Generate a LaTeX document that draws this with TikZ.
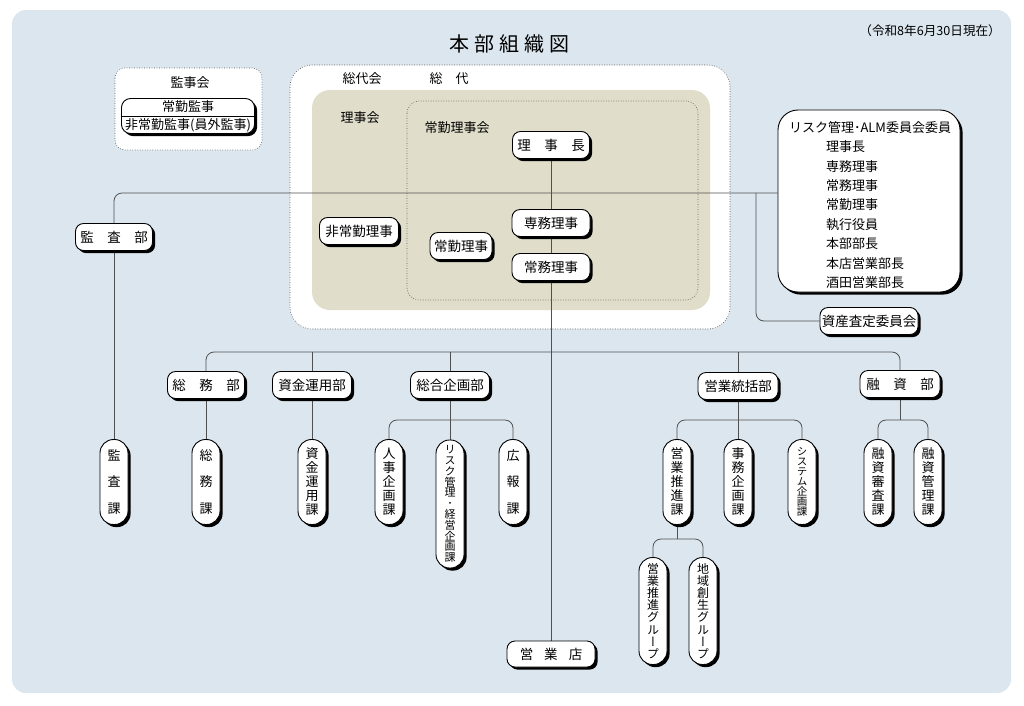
\documentclass[tikz,border=0pt]{standalone}
\usepackage{fontspec}
\setmainfont{Noto Sans CJK JP}
\newfontfamily\cjkv[RawFeature=+vert]{Noto Sans CJK JP}
\usetikzlibrary{shadows}
\definecolor{bgblue}{HTML}{DBE6EE}
\definecolor{beige}{HTML}{E0DECA}
\definecolor{lnc}{HTML}{505050}
\definecolor{dotc}{HTML}{5E5E5E}
\pgfdeclarelayer{back}
\pgfdeclarelayer{lines}
\pgfsetlayers{back,lines,main}
\begin{document}
\begin{tikzpicture}[x=1pt,y=-1pt,
 shd/.style={drop shadow={shadow xshift=2.6pt,shadow yshift=-2.6pt,fill=black,opacity=1}},
 hbox/.style={draw=black,line width=0.9pt,fill=white,rounded corners=8pt,minimum height=27pt,inner sep=0pt,font={\fontsize{13.5}{16}\selectfont},shd},
 vbox/.style={draw=black,line width=0.9pt,fill=white,rounded corners=13.5pt,minimum width=28pt,inner sep=0pt,align=center,shd},
 vt3/.style={font={\cjkv\fontsize{13}{26.5}\selectfont\lineskiplimit=-\maxdimen}},
 vt5/.style={font={\cjkv\fontsize{13}{14}\selectfont\lineskiplimit=-\maxdimen}},
 vt7/.style={font={\cjkv\fontsize{10.5}{10}\selectfont\lineskiplimit=-\maxdimen}},
 vt8/.style={font={\cjkv\fontsize{12}{12.1}\selectfont\lineskiplimit=-\maxdimen}},
 vt11/.style={font={\cjkv\fontsize{11}{10.8}\selectfont\lineskiplimit=-\maxdimen}},
 conn/.style={draw=lnc,line width=0.8pt},
 region/.style={draw=dotc,line width=0.6pt,dash pattern=on 0.8pt off 1.7pt},
 lbl/.style={inner sep=0pt,font={\fontsize{13}{16}\selectfont}}
]
\useasboundingbox (0,0) rectangle (1024,705);
\begin{pgfonlayer}{back}
\fill[white] (0,0) rectangle (1024,705);
\fill[bgblue,rounded corners=14pt] (12,10) rectangle (1011,693);
\draw[region,fill=white,rounded corners=10pt] (115,68) rectangle (262,150);
\draw[region,fill=white,rounded corners=22pt] (290,65) rectangle (730,329);
\fill[beige,rounded corners=18pt] (312,90) rectangle (710,310);
\draw[region,rounded corners=12pt] (407,101) rectangle (698,300);
\end{pgfonlayer}

% titles and labels
\node[inner sep=0pt,font={\fontsize{20}{24}\selectfont}] (title) at (509,44) {本\hspace{5pt}部\hspace{5pt}組\hspace{5pt}織\hspace{5pt}図};
\node[inner sep=0pt,anchor=east,font={\fontsize{12.6}{14}\selectfont}] (date) at (1001,31) {（令和8年6月30日現在）};
\node[lbl] (kanjikai) at (190,83) {監事会};
\node[lbl] (sodaikai) at (362,79) {総代会};
\node[lbl] (sodai) at (449,79) {総　代};
\node[lbl] (rijikai) at (360,118) {理事会};
\node[lbl] (jokinrijikai) at (457,128) {常勤理事会};

% audit committee
\node[hbox,minimum width=133,minimum height=35,rounded corners=9pt] (kanjibox) at (188,116) {};
\draw[black,line width=0.7pt] (kanjibox.west) -- (kanjibox.east);
\node[lbl] (jokinkanji) at (188,107) {常勤監事};
\node[lbl] (hijokinkanji) at (188,125.5) {非常勤監事(員外監事)};

% board
\node[hbox,minimum width=77] (richo) at (551,145) {理　事　長};
\node[hbox,minimum width=78] (senmu) at (551,223) {専務理事};
\node[hbox,minimum width=78] (jomu) at (551,267) {常務理事};
\node[hbox,minimum width=62] (jokin) at (461,246) {常勤理事};
\node[hbox,minimum width=79] (hijokin) at (359,231) {非常勤理事};

% risk committee
\node[hbox,rounded corners=20pt,minimum width=182,minimum height=182] (risk) at (869,201) {};
\node[inner sep=0pt,align=left,font={\fontsize{13}{19.4}\selectfont}] (risktxt) at (870,205) {リスク管理･ALM委員会委員\\\hspace*{37pt}理事長\\\hspace*{37pt}専務理事\\\hspace*{37pt}常務理事\\\hspace*{37pt}常勤理事\\\hspace*{37pt}執行役員\\\hspace*{37pt}本部部長\\\hspace*{37pt}本店営業部長\\\hspace*{37pt}酒田営業部長};
\node[hbox,minimum width=98] (sasan) at (869,321) {資産査定委員会};

% departments
\node[hbox,minimum width=77] (kansabu) at (114,237) {監　査　部};
\node[hbox,minimum width=77] (somubu) at (206,385) {総　務　部};
\node[hbox,minimum width=79] (shikinbu) at (312,385) {資金運用部};
\node[hbox,minimum width=79] (sogobu) at (450,385) {総合企画部};
\node[hbox,minimum width=80] (eigyobu) at (738,386) {営業統括部};
\node[hbox,minimum width=80] (yushibu) at (900,384) {融　資　部};
\node[hbox,minimum width=88,minimum height=26] (ten) at (551,654) {営\hspace{11pt}業\hspace{11pt}店};

% sections
\node[vbox,vt3,minimum height=85] (kansaka) at (114,482) {監\\査\\課};
\node[vbox,vt3,minimum height=85] (somuka) at (206,482) {総\\務\\課};
\node[vbox,vt5,minimum height=85] (shikinka) at (312,482) {資\\金\\運\\用\\課};
\node[vbox,vt5,minimum height=85] (jinjika) at (389,482) {人\\事\\企\\画\\課};
\node[vbox,vt11,minimum height=128] (riskka) at (450,504) {リ\\ス\\ク\\管\\理\\･\\経\\営\\企\\画\\課};
\node[vbox,vt3,minimum height=85] (kohoka) at (513,482) {広\\報\\課};
\node[vbox,vt5,minimum height=85] (suishinka) at (677,482) {営\\業\\推\\進\\課};
\node[vbox,vt5,minimum height=85] (jimuka) at (738,482) {事\\務\\企\\画\\課};
\node[vbox,vt7,minimum height=85] (systemka) at (802,482) {シ\\ス\\テ\\ム\\企\\画\\課};
\node[vbox,vt5,minimum height=85] (shinsaka) at (878,482) {融\\資\\審\\査\\課};
\node[vbox,vt5,minimum height=85] (kanrika) at (928,482) {融\\資\\管\\理\\課};
\node[vbox,vt8,minimum height=107] (grp1) at (653,611) {営\\業\\推\\進\\グ\\ル\\ー\\プ};
\node[vbox,vt8,minimum height=107] (grp2) at (703,611) {地\\域\\創\\生\\グ\\ル\\ー\\プ};

% connectors
\begin{pgfonlayer}{lines}
\coordinate (hy) at (756,193);
\coordinate (my) at (551,352);
\coordinate (sy) at (0,420);
\coordinate (gy) at (0,539);
\draw[conn,rounded corners=8pt] (kansabu.north) |- (hy) -- (risk.west |- hy);
\draw[conn,rounded corners=8pt] (hy) |- (sasan.west);
\draw[conn] (richo.south) -- (ten.north);
\draw[conn] (kansabu.south) -- (kansaka.north);
\draw[conn,rounded corners=8pt] (somubu.north) |- (my) -| (yushibu.north);
\draw[conn] (shikinbu.north) -- (shikinbu.north |- my);
\draw[conn] (sogobu.north) -- (sogobu.north |- my);
\draw[conn] (eigyobu.north) -- (eigyobu.north |- my);
\draw[conn] (somubu.south) -- (somuka.north);
\draw[conn] (shikinbu.south) -- (shikinka.north);
\draw[conn] (sogobu.south) -- (riskka.north);
\draw[conn,rounded corners=8pt] (jinjika.north) |- (sogobu.south |- sy) -| (kohoka.north);
\draw[conn] (eigyobu.south) -- (jimuka.north);
\draw[conn,rounded corners=8pt] (suishinka.north) |- (eigyobu.south |- sy) -| (systemka.north);
\draw[conn] (yushibu.south) -- (yushibu.south |- sy);
\draw[conn,rounded corners=8pt] (shinsaka.north) |- (yushibu.south |- sy) -| (kanrika.north);
\draw[conn] (suishinka.south) -- (suishinka.south |- gy);
\draw[conn,rounded corners=8pt] (grp1.north) |- (suishinka.south |- gy) -| (grp2.north);
\end{pgfonlayer}
\end{tikzpicture}
\end{document}
